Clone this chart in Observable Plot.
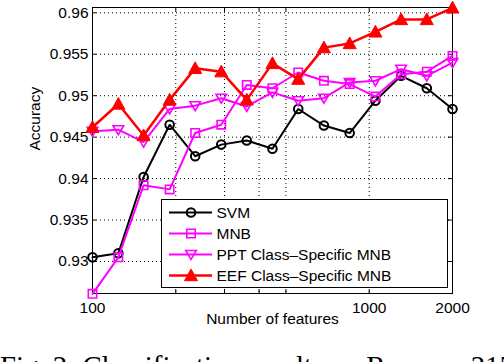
<!DOCTYPE html>
<html><head><meta charset="utf-8">
<script src="https://cdn.jsdelivr.net/npm/d3@7"></script>
<script src="https://cdn.jsdelivr.net/npm/@observablehq/plot@0.6"></script>
<style>
body{margin:0;background:#fff;}
#wrap{position:relative;width:504px;height:362px;overflow:hidden;font-family:"Liberation Sans",Arial,sans-serif;}
#wrap > svg{position:absolute;left:0;top:0;}
#caption{position:absolute;left:0;top:352px;font-family:"Liberation Serif","Times New Roman",serif;font-size:28.8px;line-height:1;white-space:nowrap;color:#000;}
</style></head><body><div id="wrap"></div>
<script>
// ---- data ----
const features = [100, 124, 153, 190, 235, 292, 361, 447, 554, 686, 850, 1053, 1304, 1615, 2000];
const svm = [0.9305, 0.9310, 0.9402, 0.9465, 0.9427, 0.9441, 0.9446, 0.9436, 0.9484, 0.9464, 0.9455, 0.9494, 0.9524, 0.9509, 0.9484];
const mnb = [0.9261, 0.9305, 0.9392, 0.9387, 0.9455, 0.9465, 0.9513, 0.9509, 0.9528, 0.9518, 0.9514, 0.9499, 0.9526, 0.9529, 0.9548];
const ppt = [0.9457, 0.9459, 0.9444, 0.9484, 0.9488, 0.9497, 0.9487, 0.9504, 0.9494, 0.9497, 0.9516, 0.9518, 0.9532, 0.9524, 0.9540];
const eef = [0.9462, 0.9490, 0.9452, 0.9495, 0.9533, 0.9529, 0.9495, 0.9539, 0.9520, 0.9558, 0.9563, 0.9577, 0.9592, 0.9592, 0.9606];
const seriesNames = ["SVM", "MNB", "PPT Class\u2013Specific MNB", "EEF Class\u2013Specific MNB"];
const seriesValues = [svm, mnb, ppt, eef];
const yTicks = [0.93, 0.935, 0.94, 0.945, 0.95, 0.955, 0.96];
const xGridTicks = [100, 200, 300, 400, 500, 1000, 2000];
const xTickLabels = [100, 500, 1000, 2000];
const xLabel = "Number of features";
const yLabel = "Accuracy";

// ---- styles ----
const square = {draw(ctx, size){const r=Math.sqrt(size/Math.PI); ctx.rect(-r,-r,2*r,2*r);}};
const downTri = {draw(ctx, size){const r=Math.sqrt(size/Math.PI); ctx.moveTo(-r,-0.75*r); ctx.lineTo(r,-0.75*r); ctx.lineTo(0,0.95*r); ctx.closePath();}};
const upTri = {draw(ctx, size){const r=Math.sqrt(size/Math.PI); ctx.moveTo(0,-r); ctx.lineTo(r,0.8*r); ctx.lineTo(-r,0.8*r); ctx.closePath();}};
const circle = {draw(ctx, size){d3.symbolCircle.draw(ctx, size);}};
const styles = [
  {color:"#000000", symbol:circle, r:4.3, fill:"none", lw:2, ms:2},
  {color:"#ff00ff", symbol:square, r:4.2, fill:"none", lw:2, ms:1.6},
  {color:"#ff00ff", symbol:downTri, r:5.3, fill:"none", lw:2, ms:1.6},
  {color:"#ff0000", symbol:upTri, r:6.5, fill:"#ff0000", lw:2.5, ms:1}
];

const rows = seriesValues.map((vals, s) => features.map((f, i) => ({x: f, y: vals[i], s})));

const W = 504, H = 362, mL = 92, mR = 52, mT = 7, mB = 69;
const fw = W - mL - mR, fh = H - mT - mB;

const seriesMarks = [];
rows.forEach((data, s) => {
  const st = styles[s];
  seriesMarks.push(Plot.line(data, {x:"x", y:"y", stroke: st.color, strokeWidth: st.lw, strokeLinejoin:"miter"}));
  seriesMarks.push(Plot.dot(data, {x:"x", y:"y", symbol: st.symbol, r: st.r, stroke: st.color, fill: st.fill, strokeWidth: st.ms}));
});

const chart = Plot.plot({
  width: W, height: H,
  marginLeft: mL, marginRight: mR, marginTop: mT, marginBottom: mB,
  style: {fontFamily: "'Liberation Sans', Arial, sans-serif", fontSize: "15.5px", color: "black", background: "transparent"},
  x: {type: "log", domain: [100, 2000]},
  y: {domain: [0.92614, 0.96064]},
  marks: [
    Plot.gridY(yTicks, {stroke: "black", strokeOpacity: 1, strokeWidth: 1, strokeDasharray: "1,3"}),
    Plot.gridX(xGridTicks, {stroke: "black", strokeOpacity: 1, strokeWidth: 1, strokeDasharray: "1,3"}),
    Plot.ruleY(yTicks, {stroke: "black", insetRight: fw - 4}),
    Plot.ruleY(yTicks, {stroke: "black", insetLeft: fw - 4}),
    Plot.ruleX(xGridTicks, {stroke: "black", insetTop: fh - 4}),
    Plot.ruleX(xGridTicks, {stroke: "black", insetBottom: fh - 4}),
    Plot.axisY(yTicks, {tickSize: 0, tickPadding: 4, label: null, tickFormat: d => String(+d.toFixed(3))}),
    Plot.axisX(xTickLabels, {tickSize: 0, tickPadding: 8, label: null, tickFormat: d => String(d)}),
    Plot.frame({stroke: "black", strokeWidth: 1}),
    ...seriesMarks,
    Plot.text([yLabel], {text: d => d, frameAnchor: "left", rotate: -90, dx: -57, fill: "black"}),
    Plot.text([xLabel], {text: d => d, frameAnchor: "bottom", dy: 30, fill: "black"})
  ]
});
const wrap = document.getElementById("wrap");
wrap.appendChild(chart);

// ---- legend ----
const lg = d3.select(wrap).append("svg")
  .attr("width", 288).attr("height", 90)
  .style("position", "absolute").style("left", "161px").style("top", "199px");
lg.append("rect").attr("x", 0.5).attr("y", 0.5).attr("width", 286).attr("height", 88)
  .attr("fill", "white").attr("stroke", "black");
seriesNames.forEach((name, i) => {
  const st = styles[i];
  const cy = 13.5 + i * 21;
  lg.append("line").attr("x1", 8).attr("x2", 51).attr("y1", cy).attr("y2", cy)
    .attr("stroke", st.color).attr("stroke-width", st.lw);
  const p = d3.path();
  st.symbol.draw(p, st.r * st.r * Math.PI);
  lg.append("path").attr("d", p.toString()).attr("transform", `translate(30,${cy})`)
    .attr("stroke", st.color).attr("fill", st.fill).attr("stroke-width", st.ms);
  lg.append("text").attr("x", 55.5).attr("y", cy).attr("dy", "0.35em")
    .attr("font-family", "'Liberation Sans', Arial, sans-serif").attr("font-size", "15.5px")
    .attr("fill", "black").text(name);
});

// ---- caption ----
const cap = document.createElement("div");
cap.id = "caption";
cap.innerHTML = 'Fig. 2: Classification results on <span style="font-variant:small-caps">Reuters-21578</span>.';
wrap.appendChild(cap);
</script>
</body></html>
